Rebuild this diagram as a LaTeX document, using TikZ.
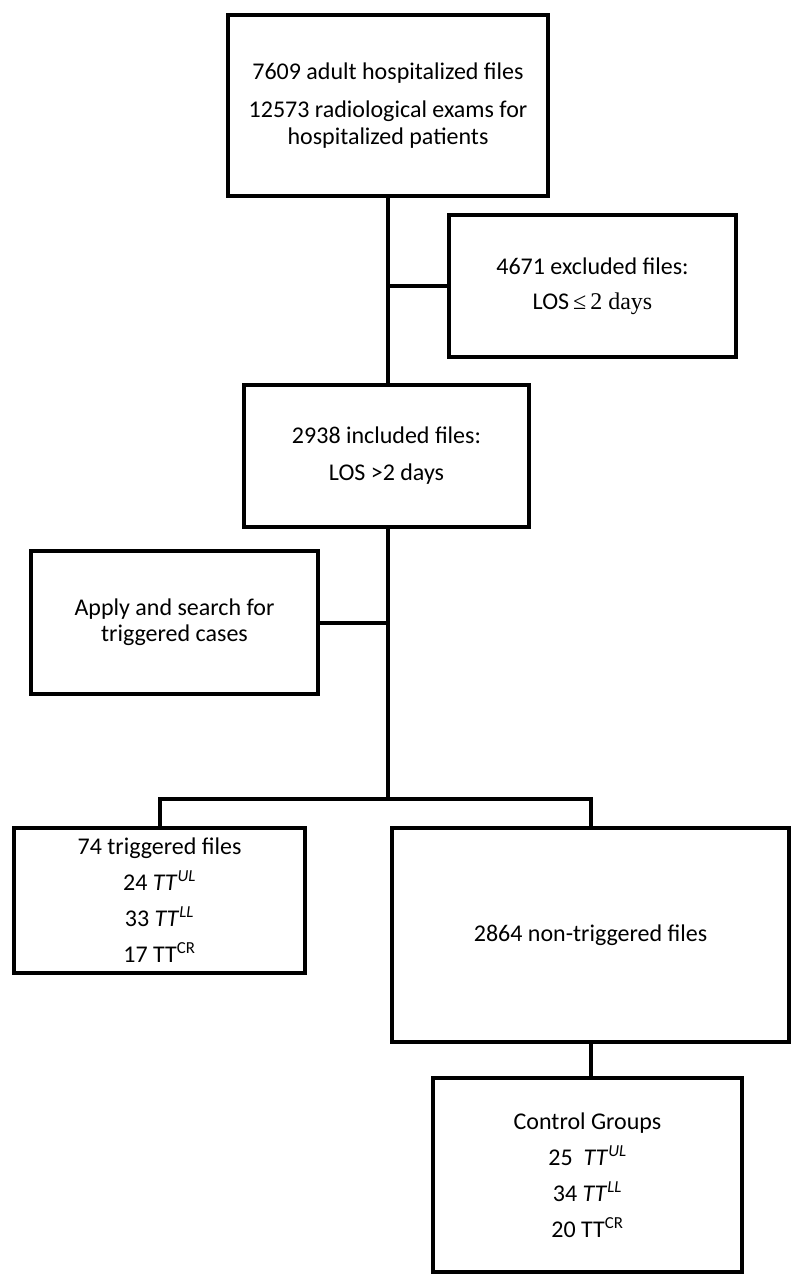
\documentclass[tikz,border=0pt]{standalone}
\usepackage{fontspec}
\setmainfont{Carlito}
\newfontfamily\serifb{Liberation Serif}
\begin{document}
\begin{tikzpicture}[x=1pt,y=-1pt,
  boxst/.style={draw,line width=4.5pt,inner sep=0pt,align=center,
    font=\fontsize{24}{27}\selectfont},
  conn/.style={line width=4pt}]
\useasboundingbox (0,0) rectangle (800,1288);
\node[boxst,minimum width=320pt,minimum height=181pt] (b1) at (388,105.5)
  {7609 adult hospitalized files\\[11pt]12573 radiological exams for\\hospitalized patients};
\node[boxst,minimum width=287pt,minimum height=142pt] (b2) at (592.5,286)
  {4671 excluded files:\\[8pt]LOS\,{\serifb ≤\,2 days}};
\node[boxst,minimum width=285pt,minimum height=142pt] (b3) at (386.5,456)
  {2938 included files:\\[10pt]LOS >2 days};
\node[boxst,minimum width=287pt,minimum height=143pt] (b4) at (174.5,622.5)
  {Apply and search for\\[-1pt]triggered cases};
\node[boxst,minimum width=291pt,minimum height=145pt] (trig) at (159.5,900.5)
  {74 triggered files\\[9pt]24 \textit{TT}\textsuperscript{\textit{UL}}\\[9pt]33 \textit{TT}\textsuperscript{\textit{LL}}\\[9pt]17 TT\textsuperscript{CR}};
\node[boxst,minimum width=397pt,minimum height=214pt] (non) at (590.5,935)
  {2864 non-triggered files};
\node[boxst,minimum width=309pt,minimum height=194pt] (ctl) at (587.5,1175)
  {Control Groups\\[9pt]25\ \ \textit{TT}\textsuperscript{\textit{UL}}\\[9pt]34 \textit{TT}\textsuperscript{\textit{LL}}\\[9pt]20 TT\textsuperscript{CR}};
\coordinate (j) at (388,799);
\draw[conn] (b1.south) -- (b1.south |- b3.north);
\draw[conn] (b1.south |- b2.west) -- (b2.west);
\draw[conn] (j |- b3.south) -- (j);
\draw[conn] (b4.east) -- (b4.east -| j);
\draw[conn] (trig.north) |- (j) -| (non.north);
\draw[conn] (non.south) -- (non.south |- ctl.north);
\end{tikzpicture}
\end{document}
